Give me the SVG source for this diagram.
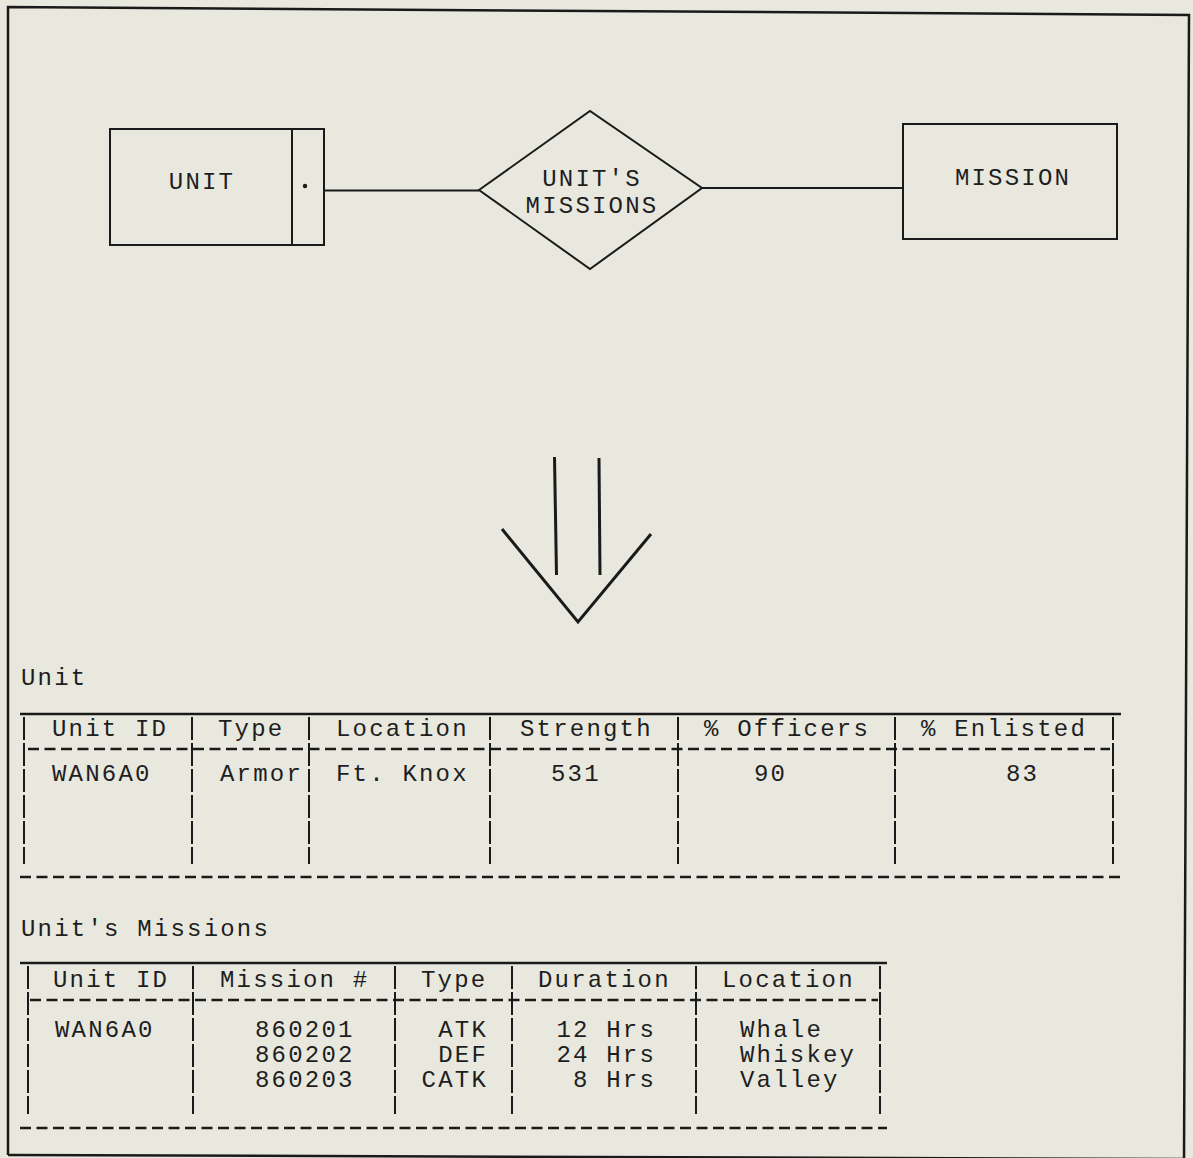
<svg xmlns="http://www.w3.org/2000/svg" width="1193" height="1158" viewBox="0 0 1193 1158">
<style>
text{font-family:"Liberation Mono","DejaVu Sans Mono",monospace;font-size:24px;letter-spacing:2.2px;fill:#1e1e1e}
.c{text-anchor:middle}
.e{text-anchor:end}
.ln{stroke:#1a1a1a;stroke-width:2;fill:none}
.bd{stroke:#1a1a1a;stroke-width:2.5;fill:none}
.vd{stroke:#1a1a1a;stroke-width:2;stroke-dasharray:23 3;fill:none}
.hd{stroke:#1a1a1a;stroke-width:2.5;stroke-dasharray:11 5.5;fill:none}
</style>
<rect x="0" y="0" width="1193" height="1158" fill="#e8e8de"/>
<polyline class="bd" points="8,1155 8,7 1189,15 1184,1160"/>
<line class="bd" x1="8" y1="1155" x2="1184" y2="1159"/>

<g id="connectors">
<line class="ln" x1="324" y1="190.5" x2="479" y2="190.5"/>
<line class="ln" x1="702" y1="188" x2="903" y2="188"/>
</g>

<g id="unit">
<rect class="ln" x="110" y="129" width="214" height="116"/>
<line class="ln" x1="292" y1="129" x2="292" y2="245"/>
<circle cx="305" cy="186" r="2.2" fill="#1a1a1a"/>
<text class="c" x="202" y="189">UNIT</text>
</g>

<g id="units-missions">
<polygon class="ln" points="479,190 590,111 702,188 590,269"/>
<text class="c" x="592" y="186">UNIT'S</text>
<text class="c" x="592" y="213">MISSIONS</text>
</g>

<g id="mission">
<rect class="ln" x="903" y="124" width="214" height="115"/>
<text class="c" x="1013" y="185">MISSION</text>
</g>

<g id="transform-arrow">
<line stroke="#1a1a1a" stroke-width="3" x1="554.5" y1="457" x2="556.5" y2="575"/>
<line stroke="#1a1a1a" stroke-width="3" x1="599" y1="458" x2="600" y2="575"/>
<polyline stroke="#1a1a1a" stroke-width="3" fill="none" points="502,529 578,622 651,534"/>
</g>

<g id="unit-table">
<text x="21" y="685">Unit</text>
<line class="bd" x1="20" y1="714" x2="1121" y2="714"/>
<line class="vd" x1="24" y1="717" x2="24" y2="864"/>
<line class="vd" x1="192" y1="717" x2="192" y2="864"/>
<line class="vd" x1="309" y1="717" x2="309" y2="864"/>
<line class="vd" x1="490" y1="717" x2="490" y2="864"/>
<line class="vd" x1="678" y1="717" x2="678" y2="864"/>
<line class="vd" x1="895" y1="717" x2="895" y2="864"/>
<line class="vd" x1="1113" y1="717" x2="1113" y2="864"/>
<line class="hd" x1="28" y1="749" x2="1110" y2="749"/>
<text x="52" y="736">Unit ID</text>
<text x="218" y="736">Type</text>
<text x="336" y="736">Location</text>
<text x="520" y="736">Strength</text>
<text x="704" y="736">% Officers</text>
<text x="921" y="736">% Enlisted</text>
<text x="52" y="781">WAN6A0</text>
<text x="220" y="781">Armor</text>
<text x="336" y="781">Ft. Knox</text>
<text x="551" y="781">531</text>
<text x="754" y="781">90</text>
<text x="1006" y="781">83</text>
<line class="hd" x1="20" y1="877" x2="1120" y2="877"/>
</g>

<g id="units-missions-table">
<text x="21" y="936">Unit's Missions</text>
<line class="bd" x1="20" y1="963" x2="887" y2="963"/>
<line class="vd" x1="28" y1="966" x2="28" y2="1114"/>
<line class="vd" x1="193" y1="966" x2="193" y2="1114"/>
<line class="vd" x1="395" y1="966" x2="395" y2="1114"/>
<line class="vd" x1="512" y1="966" x2="512" y2="1114"/>
<line class="vd" x1="696" y1="966" x2="696" y2="1114"/>
<line class="vd" x1="880" y1="966" x2="880" y2="1114"/>
<line class="hd" x1="30" y1="1000" x2="878" y2="1000"/>
<text x="53" y="987">Unit ID</text>
<text x="220" y="987">Mission #</text>
<text x="421" y="987">Type</text>
<text x="538" y="987">Duration</text>
<text x="722" y="987">Location</text>
<text x="55" y="1037">WAN6A0</text>
<text x="255" y="1037">860201</text>
<text x="255" y="1062">860202</text>
<text x="255" y="1087">860203</text>
<text class="e" x="488" y="1037">ATK</text>
<text class="e" x="488" y="1062">DEF</text>
<text class="e" x="488" y="1087">CATK</text>
<text class="e" x="656" y="1037">12 Hrs</text>
<text class="e" x="656" y="1062">24 Hrs</text>
<text class="e" x="656" y="1087">8 Hrs</text>
<text x="740" y="1037">Whale</text>
<text x="740" y="1062">Whiskey</text>
<text x="740" y="1087">Valley</text>
<line class="hd" x1="20" y1="1128" x2="887" y2="1128"/>
</g>
</svg>
